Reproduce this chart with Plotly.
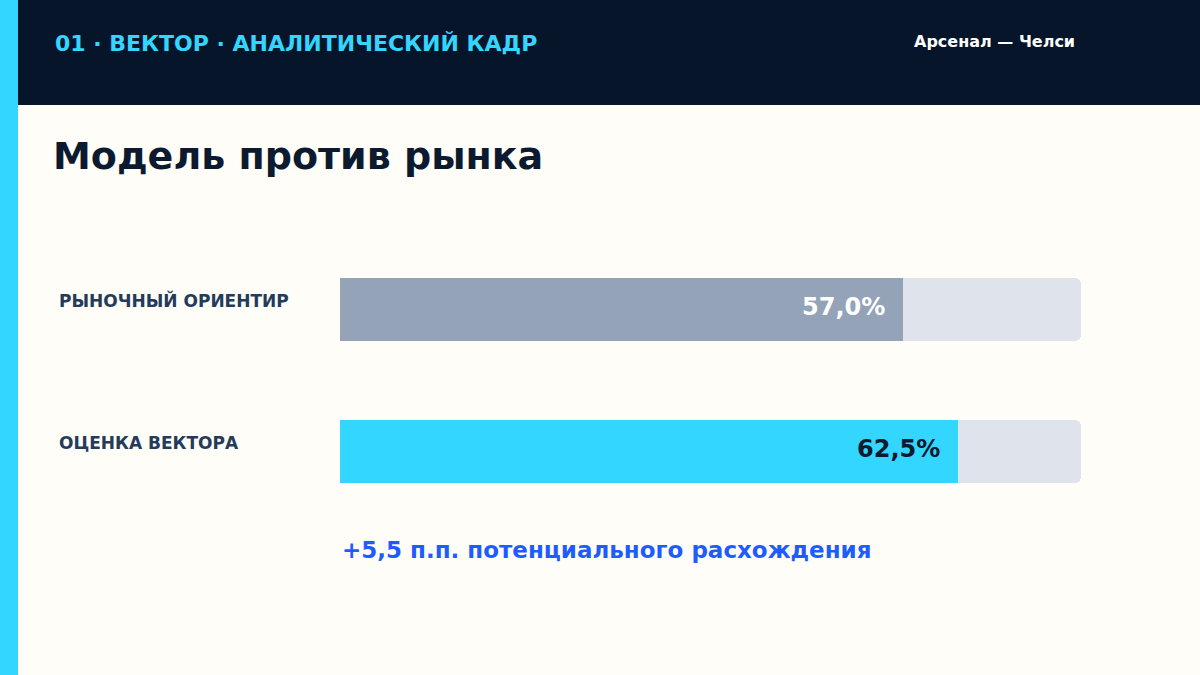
import plotly.graph_objects as go

# ---- data ----
categories = ["РЫНОЧНЫЙ ОРИЕНТИР", "ОЦЕНКА ВЕКТОРА"]
values = [57.0, 62.5]
value_labels = ["57,0%", "62,5%"]
scale_max = 75.0
header_left = "01 · ВЕКТОР · АНАЛИТИЧЕСКИЙ КАДР"
header_right = "Арсенал — Челси"
title_text = "Модель против рынка"
note_text = "+5,5 п.п. потенциального расхождения"

# ---- styles ----
W, H = 1200, 675
BG = "#FEFDF8"
NAVY = "#061529"
CYAN = "#33D6FF"
GREY_BAR = "#94A3B8"
TRACK = "#DFE3EB"
TITLE_C = "#0B1A2E"
LABEL_C = "#243B5A"
NOTE_C = "#1F5BFF"
FONT = "DejaVu Sans"
bar_colors = [GREY_BAR, CYAN]
text_colors = ["#FFFFFF", TITLE_C]

pos = list(range(len(categories)))
bar_w = 63 / 142

fig = go.Figure()
fig.add_trace(go.Bar(
    y=pos, x=[scale_max] * len(pos), orientation="h", width=bar_w,
    marker=dict(color=TRACK, cornerradius=6, line=dict(width=0)),
    hoverinfo="skip", showlegend=False,
))
fig.add_trace(go.Bar(
    y=pos, x=values, orientation="h", width=bar_w,
    marker=dict(color=bar_colors, cornerradius=6, line=dict(width=0)),
    hoverinfo="skip", showlegend=False,
))

annotations = []
for i, (c, v, lab) in enumerate(zip(categories, values, value_labels)):
    annotations.append(dict(
        text=c, xref="paper", x=57 / W, xanchor="left",
        yref="y", y=i, yshift=9, yanchor="middle", showarrow=False,
        font=dict(family=FONT, size=17, color=LABEL_C, weight="bold"),
    ))
    annotations.append(dict(
        text=lab, xref="x", x=v, xanchor="right", xshift=-16,
        yref="y", y=i, yshift=3, yanchor="middle", showarrow=False,
        font=dict(family=FONT, size=24, color=text_colors[i], weight="bold"),
    ))

annotations += [
    dict(text=header_left, xref="paper", x=53 / W, xanchor="left",
         yref="paper", y=1 - 43 / H, yanchor="middle", showarrow=False,
         font=dict(family=FONT, size=22, color=CYAN, weight="bold")),
    dict(text=header_right, xref="paper", x=1077 / W, xanchor="right",
         yref="paper", y=1 - 42 / H, yanchor="middle", showarrow=False,
         font=dict(family=FONT, size=16, color="#FFFFFF", weight="bold")),
    dict(text=title_text, xref="paper", x=51 / W, xanchor="left",
         yref="paper", y=1 - 156 / H, yanchor="middle", showarrow=False,
         font=dict(family=FONT, size=38, color=TITLE_C, weight="bold")),
    dict(text=note_text, xref="x", x=0, xanchor="left",
         yref="paper", y=1 - 550 / H, yanchor="middle", showarrow=False,
         font=dict(family=FONT, size=23, color=NOTE_C, weight="bold")),
]

shapes = [
    dict(type="rect", xref="paper", yref="paper", x0=0, x1=1,
         y0=1 - 105 / H, y1=1, fillcolor=NAVY, line=dict(width=0), layer="below"),
    dict(type="rect", xref="paper", yref="paper", x0=0, x1=18 / W,
         y0=0, y1=1, fillcolor=CYAN, line=dict(width=0), layer="above"),
]

top_v = -309.5 / 142
bot_v = (H - 309.5) / 142
fig.update_layout(
    width=W, height=H, paper_bgcolor=BG, plot_bgcolor="rgba(0,0,0,0)",
    margin=dict(l=0, r=0, t=0, b=0), barmode="overlay",
    xaxis=dict(domain=[340 / W, 1081 / W], range=[0, scale_max], visible=False, fixedrange=True),
    yaxis=dict(domain=[0, 1], range=[bot_v, top_v], visible=False, fixedrange=True),
    annotations=annotations, shapes=shapes, bargap=0,
)

fig.write_html(
    "out.html",
    config={"displayModeBar": False},
    post_script="document.body.style.margin='0';document.body.style.overflow='hidden';",
)
